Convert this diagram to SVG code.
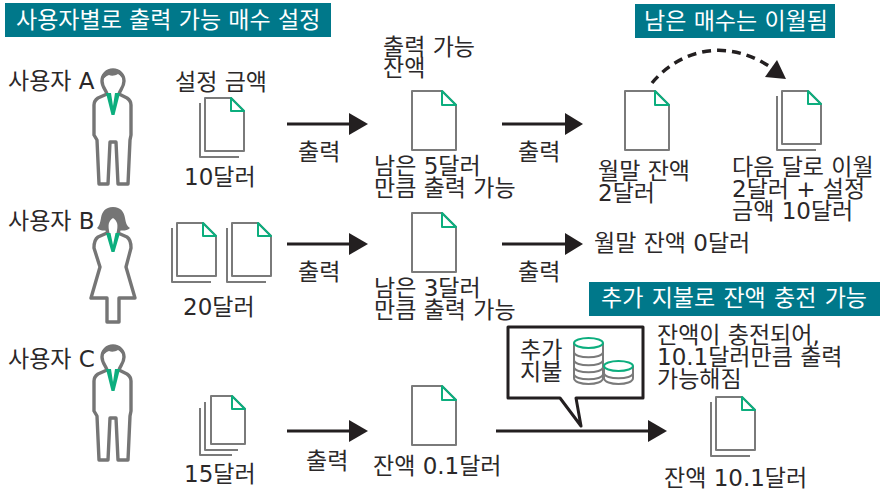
<svg xmlns="http://www.w3.org/2000/svg" width="890" height="493" viewBox="0 0 890 493">
<style>
text{font-family:"DejaVu Sans","Noto Sans CJK KR",sans-serif;font-size:23px;fill:#2b2829}
.w{fill:#fff}
.band{fill:#00788a}
.g{fill:none;stroke:#7a7a7a;stroke-width:2;stroke-linejoin:round}
.d{fill:#fff;stroke:#7a7a7a;stroke-width:2;stroke-linejoin:round}
.p{fill:#fff;stroke:#757575;stroke-width:3.400;stroke-linejoin:round}
.t{fill:none;stroke:#0cae7e;stroke-width:2;stroke-linejoin:round}
.e{fill:#fff;stroke:#0cae7e;stroke-width:2}
.ln{fill:none;stroke:#231f20;stroke-width:3}
.h{fill:#231f20}
</style>
<defs>
<g id="doc">
<path class="d" d="M0 0H30L44 14V59H0Z"/>
<path class="t" d="M30 0L44 14H30Z"/>
</g>
<g id="sdoc">
<path class="g" d="M-5 5V59H34"/>
<path class="d" d="M0 0H26L39 13V53H0Z"/>
<path class="t" d="M26 0L39 13H26Z"/>
</g>
<g id="man">
<path class="p" d="M107 94C106 90 102 87 102 81a11 11 0 0 1 22 0C124 87 120 90 119 94"/>
<path d="M101 82C101 74 106 69 113 69S125 74 125 82C123 78 121 76 118 74C115 76 111 76 109 75C106 76 103 79 101 82Z" fill="#757575"/>
<path class="p" d="M107 94L98 98C95 100 94 102 94 105V135L97 140L99 184H108L110 142H116L118 184H128L130 140L131 135V105C131 102 130 100 127 98L119 94"/>
<path d="M106 93H111L113 106L115 93H120L114.500 115H111.500Z" fill="#0cae7e"/>
</g>
</defs>
<g id="title-left"><rect class="band" x="5" y="3" width="326" height="34"/><text class="w" x="16" y="28">사용자별로 출력 가능 매수 설정</text></g>
<g id="title-right"><rect class="band" x="635" y="4" width="200" height="34"/><text class="w" x="644" y="29">남은 매수는 이월됨</text></g>
<g id="title-charge"><rect class="band" x="589" y="282" width="291" height="34"/><text class="w" x="601" y="306" word-spacing="1">추가 지불로 잔액 충전 가능</text></g>

<g id="user-a"><use href="#man"/><text x="8" y="89">사용자 A</text></g>
<g id="user-b">
<path class="p" d="M107 233L98 237C95 239 94 243 94 248L100 267L91 298H107V322H119V298H135L126 267L131 248C131 243 130 239 127 237L118 233"/>
<path class="p" d="M108 234C106 226 106 220 113 216C120 220 120 226 118 234" stroke-width="2"/>
<path d="M113 207C105 207 102 212 101 218C100 224 99 226 97 228C100 231 105 231 108 230C105 224 106 219 113 217C117 220 120 222 120 225C120 228 119 230 118 230C122 231 127 231 130 228C127 226 126 224 125 218C124 212 121 207 113 207Z" fill="#757575"/>
<path d="M106 233H110.500L113 245L115.500 233H120L114.500 252H111.500Z" fill="#0cae7e"/>
<text x="8" y="229">사용자 B</text></g>
<g id="user-c"><use href="#man" y="276"/><text x="8" y="367">사용자 C</text></g>

<g id="doc-a1"><use href="#sdoc" x="205" y="98"/><text x="175" y="90">설정 금액</text><text x="184" y="185">10달러</text></g>
<g id="doc-b1"><use href="#sdoc" x="177" y="223"/><use href="#sdoc" x="232" y="223"/><text x="183" y="315">20달러</text></g>
<g id="doc-c1">
<path class="g" d="M200 408V455H232"/>
<path class="g" d="M205 402V450H238"/>
<path class="d" d="M211 396H232L245 409V444H211Z"/>
<path class="t" d="M232 396L245 409H232Z"/>
<text x="184" y="482">15달러</text></g>

<g id="doc-a2"><use href="#doc" x="412" y="91"/><text x="383" y="55">출력 가능</text><text x="383" y="76">잔액</text><text x="374" y="174">남은 5달러</text><text x="374" y="196">만큼 출력 가능</text></g>
<g id="doc-b2"><use href="#doc" x="412" y="213"/><text x="374" y="296">남은 3달러</text><text x="374" y="318">만큼 출력 가능</text></g>
<g id="doc-c2"><use href="#doc" x="412" y="386"/><text x="373" y="474">잔액 0.1달러</text></g>

<g id="doc-a3"><use href="#doc" x="625" y="91"/><text x="598" y="179">월말 잔액</text><text x="598" y="201">2달러</text></g>
<g id="doc-a4"><use href="#sdoc" x="782" y="91"/><text x="732" y="175">다음 달로 이월</text><text x="732" y="197">2달러 + 설정</text><text x="732" y="219">금액 10달러</text></g>
<g id="doc-c3"><use href="#sdoc" x="716" y="397"/><text x="664" y="486">잔액 10.1달러</text></g>

<text x="298" y="160">출력</text>
<text x="518" y="160">출력</text>
<text x="298" y="280">출력</text>
<text x="518" y="280">출력</text>
<text x="306" y="469">출력</text>
<text x="594" y="251">월말 잔액 0달러</text>
<text x="657" y="343">잔액이 충전되어,</text>
<text x="657" y="365">10.1달러만큼 출력</text>
<text x="657" y="387">가능해짐</text>

<g id="callout">
<path d="M508 327H643V398H576L581 426L560 398H508Z" fill="#fff" stroke="#231f20" stroke-width="3" stroke-linejoin="round"/>
<text x="520" y="358">추가</text><text x="520" y="380">지불</text>
<g class="coins">
<path class="g" d="M574 343V378C574 386 603 386 603 378V343"/>
<path class="g" d="M574 352C574 359 603 359 603 352M574 360C574 367 603 367 603 360M574 367C574 374 603 374 603 367M574 374C574 381 603 381 603 374"/>
<path class="d" d="M604 366V378C604 386 633 386 633 378V366"/>
<path class="g" d="M604 373C604 380 633 380 633 373"/>
<ellipse class="e" cx="588.500" cy="343" rx="14.500" ry="5"/>
<ellipse class="e" cx="618.500" cy="366" rx="14.500" ry="5"/>
</g>
</g>

<g id="connectors">
<path class="ln" d="M287 124H350"/><path class="h" d="M349 113L368 124L349 135Z"/>
<path class="ln" d="M502 124H566"/><path class="h" d="M565 113L583 124L565 135Z"/>
<path class="ln" d="M287 244H350"/><path class="h" d="M349 233L368 244L349 255Z"/>
<path class="ln" d="M502 244H566"/><path class="h" d="M565 233L583 244L565 255Z"/>
<path class="ln" d="M287 431H350"/><path class="h" d="M349 420L368 431L349 442Z"/>
<path class="ln" d="M496 431H648"/><path class="h" d="M648 420L667 431L648 442Z"/>
<path d="M652 83C675 55 720 35 769 66" fill="none" stroke="#231f20" stroke-width="3.500" stroke-dasharray="9 6"/>
<path class="h" d="M777 60L786 79L765 77Z"/>
</g>
</svg>
